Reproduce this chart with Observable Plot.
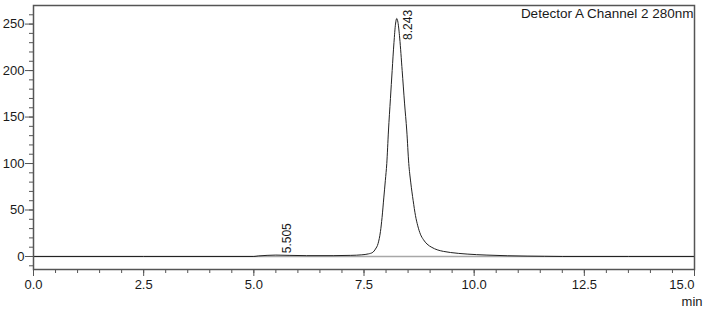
<!DOCTYPE html>
<html>
<head>
<meta charset="utf-8">
<script src="https://cdn.jsdelivr.net/npm/d3@7"></script>
<script src="https://cdn.jsdelivr.net/npm/@observablehq/plot@0.6"></script>
<style>
  body { margin: 0; background: #fff; }
</style>
</head>
<body>
<div id="chart"></div>
<script>
// Chromatogram trace (time in min, signal)
const time = [0, 5.0, 5.1, 5.3, 5.5, 5.8, 6.2, 6.8, 7.2, 7.45, 7.6, 7.7, 7.76, 7.82, 7.874, 7.91, 7.949, 7.985, 8.017, 8.055, 8.10, 8.139, 8.18, 8.215, 8.243, 8.27, 8.31, 8.366, 8.42, 8.471, 8.516, 8.56, 8.616, 8.668, 8.72, 8.78, 8.85, 8.93, 9.04, 9.16, 9.3, 9.46, 9.65, 9.84, 10.05, 10.29, 10.75, 11.2, 11.6, 12.0, 15.0];
const signal = [0, 0, 0.6, 1.2, 1.5, 1.2, 0.9, 0.9, 1.2, 1.8, 2.8, 4.5, 8, 14, 27, 42, 63, 82, 100, 135, 170, 200, 230, 250, 256, 252, 235, 200, 165, 135, 100, 80, 60, 44, 33, 24, 18, 13.4, 9.8, 7.2, 5.5, 4.3, 3.3, 2.6, 2.0, 1.5, 0.8, 0.4, 0.2, 0, 0];

// Peak annotations
const peakTimes = [5.505, 8.243];
const peakHeights = [1.5, 256];
const peakLabels = ["5.505", "8.243"];

// Axes
const xMajorTicks = [0, 2.5, 5, 7.5, 10, 12.5, 15];
const xMinorTicks = d3.range(0, 15.001, 0.5);
const yMajorTicks = [0, 50, 100, 150, 200, 250];
const yMinorTicks = d3.range(-10, 261, 10);
const xUnit = "min";
const title = "Detector A Channel 2 280nm";

const trace = time.map((t, i) => ({t, v: signal[i]}));
const peaks = peakTimes.map((t, i) => ({t, v: Math.min(peakHeights[i] + 2, 233), label: peakLabels[i]}));

const axisColor = "#555";
const textColor = "#1a1a1a";
const fmt = d3.format(".1f");
const lastX = xMajorTicks[xMajorTicks.length - 1];

const chart = Plot.plot({
  width: 705,
  height: 310,
  marginLeft: 33,
  marginRight: 11,
  marginTop: 5,
  marginBottom: 41,
  style: {fontFamily: "'Liberation Sans', Arial, sans-serif", fontSize: "13px", color: textColor, background: "#fff"},
  x: {domain: [0, 15]},
  y: {domain: [-14, 270]},
  marks: [
    Plot.ruleY([0], {stroke: "#a8a8a8", strokeWidth: 1.5}),
    Plot.line(trace, {x: "t", y: "v", stroke: "#222", strokeWidth: 1, curve: "monotone-x"}),
    Plot.text(peaks, {x: "t", y: "v", text: "label", rotate: -90, textAnchor: "start", dx: 11, fontSize: 12, fill: textColor}),
    Plot.axisY({ticks: yMinorTicks, tickSize: 4, text: null, stroke: axisColor, label: null}),
    Plot.axisY({ticks: yMajorTicks, tickSize: 8, tickPadding: 1, stroke: axisColor, label: null, fill: textColor}),
    Plot.axisX({ticks: xMinorTicks, tickSize: 4, text: null, stroke: axisColor, label: null}),
    Plot.axisX({ticks: xMajorTicks.slice(0, -1), tickSize: 7, tickPadding: 3, tickFormat: fmt, stroke: axisColor, fill: textColor, label: null}),
    Plot.axisX({ticks: [lastX], tickSize: 7, tickPadding: 3, tickFormat: fmt, textAnchor: "end", stroke: axisColor, fill: textColor,
      label: xUnit, labelAnchor: "right", labelArrow: "none", labelOffset: 36}),
    Plot.text([title], {frameAnchor: "top-right", textAnchor: "end", lineAnchor: "top", dx: -1, dy: 3, fontSize: 13.5, fill: textColor}),
    Plot.frame({stroke: axisColor, strokeWidth: 1.5})
  ]
});
document.getElementById("chart").append(chart);
</script>
</body>
</html>
